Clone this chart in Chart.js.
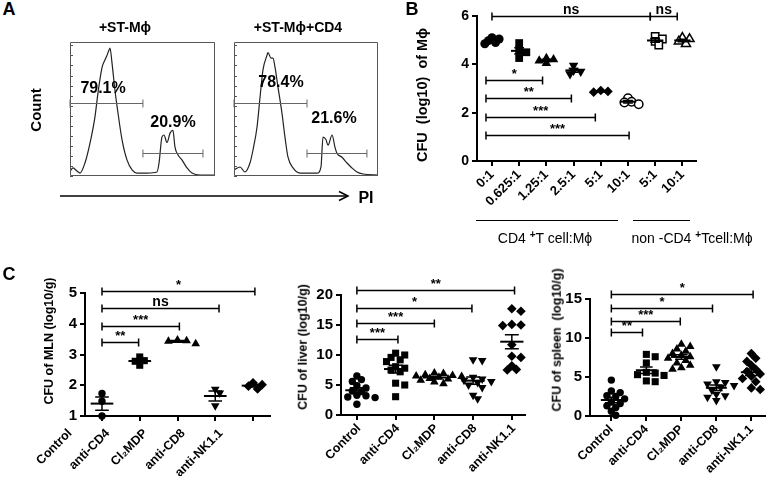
<!DOCTYPE html>
<html>
<head>
<meta charset="utf-8">
<title>CFU panels</title>
<script src="https://cdn.jsdelivr.net/npm/chart.js@4.4.1/dist/chart.umd.min.js"></script>
<style>
  html, body { margin: 0; padding: 0; background: #fff; }
  #fig { position: relative; width: 770px; height: 481px; overflow: hidden; font-family: "Liberation Sans", Arial, sans-serif; color: #000; }
  #fig canvas { position: absolute; }
  .lbl { position: absolute; transform: translate(-50%, -50%); white-space: pre; font-weight: bold; line-height: 1; }
  .vert { transform: translate(-50%, -50%) rotate(-90deg); }
  .plain { font-weight: normal; }
  .rule { position: absolute; height: 0; border-top: 1.5px solid #000; }
  sup { font-size: 10px; vertical-align: 5px; line-height: 0; font-weight: bold; }
</style>
</head>
<body>
<div id="fig">
  <canvas id="histL"></canvas>
  <canvas id="histR"></canvas>
  <canvas id="chartB"></canvas>
  <canvas id="chartMLN"></canvas>
  <canvas id="chartLiver"></canvas>
  <canvas id="chartSpleen"></canvas>

  <div class="lbl" style="left:9px;top:9px;font-size:18px">A</div>
  <div class="lbl" style="left:125px;top:27px;font-size:14px">+ST-Mϕ</div>
  <div class="lbl" style="left:298px;top:27px;font-size:14px">+ST-Mϕ+CD4</div>
  <div class="lbl vert" style="left:35px;top:110px;font-size:15px">Count</div>
  <svg style="position:absolute;left:0;top:0" width="390" height="210">
    <line x1="60" y1="196" x2="347" y2="196" stroke="#000" stroke-width="1.5"/>
    <path d="M339,191.5 L348,196 L339,200.5" fill="none" stroke="#000" stroke-width="1.5"/>
  </svg>
  <div class="lbl" style="left:366px;top:198px;font-size:16px">PI</div>

  <div class="lbl" style="left:412px;top:9px;font-size:18px">B</div>
  <div class="lbl vert" style="left:422px;top:95px;font-size:14.5px">CFU  (log10)  of Mϕ</div>
  <div class="rule" style="left:476px;top:220px;width:142px"></div>
  <div class="rule" style="left:633px;top:220px;width:57px"></div>
  <div class="lbl plain" style="left:545px;top:238px;font-size:14px">CD4 <sup>+</sup>T cell:Mϕ</div>
  <div class="lbl plain" style="left:692px;top:238px;font-size:14px">non -CD4 <sup>+</sup>Tcell:Mϕ</div>

  <div class="lbl" style="left:9px;top:274px;font-size:18px">C</div>
  <div class="lbl vert" style="left:49px;top:341px;font-size:12.5px">CFU of MLN (log10/g)</div>
  <div class="lbl vert" style="left:303px;top:347px;font-size:12.5px">CFU of liver (log10/g)</div>
  <div class="lbl vert" style="left:557px;top:340px;font-size:12.5px">CFU of spleen  (log10/g)</div>
</div>

<script>
const FONT = '"Liberation Sans", Arial, sans-serif';
Chart.defaults.font.family = FONT;
Chart.defaults.color = '#000';
Chart.defaults.animation = false;

// ---- A: PI histograms (channel 0-1000, count as % of panel height) ----
const leftPI = [0, 21, 48, 69, 103, 138, 172, 193, 221, 241, 255, 269, 276, 290, 310, 331, 359, 393, 428, 462,
  531, 600, 614, 634, 648, 669, 690, 710, 724, 745, 772, 807, 841, 897, 1000];
const leftCount = [3.7, 6, 3.7, 2.2, 9.7, 24.6, 44, 62, 81, 86.6, 90, 94, 95.5, 84, 64, 47, 27, 12, 4.5, 2.2,
  2.2, 3, 9.7, 29, 30.6, 25, 32, 34, 21.6, 15.7, 12, 6, 2.2, 0.7, 0.7];
const rightPI = [0, 42, 76, 111, 132, 160, 181, 201, 229, 236, 257, 271, 285, 306, 333, 354, 375, 410, 458, 576,
  604, 618, 639, 653, 681, 701, 715, 750, 785, 819, 854, 896, 1000];
const rightCount = [4.5, 6.7, 3, 9.7, 19.4, 36.6, 59, 79, 90, 92, 88, 88, 81, 66, 47, 29, 14, 6, 2.2, 2.2,
  6.7, 29, 27, 23, 30.6, 21.6, 17, 14, 9.7, 6, 3, 1.5, 0.7];
// gates: [from, to, drawn at count]
const leftGates = [[0, 503, 54.5], [503, 917, 17.2]];
const rightGates = [[0, 507, 54.5], [507, 923, 17.2]];
const leftPct = ['79.1%', '20.9%'];
const rightPct = ['78.4%', '21.6%'];

// ---- B: CFU (log10) of macrophages by ratio ----
const ratioLabels = ['0:1', '0.625:1', '1.25:1', '2.5:1', '5:1', '10:1', '5:1', '10:1'];
const cfuMphi = [
  [5.1, 5.05, 4.98, 4.9, 4.85],
  [4.88, 4.59, 4.5, 4.26],
  [4.25, 4.2, 4.15, 4.05],
  [3.95, 3.75, 3.7, 3.6],
  [2.92, 2.88, 2.85],
  [2.6, 2.45, 2.42, 2.35],
  [5.15, 5.05, 4.95, 4.8],
  [5.1, 5.05, 4.95, 4.85]
];
const sigB = [[0, 5.82, 6, 'ns'], [5.82, 6.81, 6, 'ns'], [-0.22, 1.86, 3.35, '*'],
  [-0.22, 2.92, 2.6, '**'], [-0.22, 3.8, 1.82, '***'], [-0.22, 5.04, 1.08, '***']];

// ---- C: CFU (log10/g) per organ ----
const treatments = ['Control', 'anti-CD4', 'Cl₂MDP', 'anti-CD8', 'anti-NK1.1'];
const cfuMLN = [
  [1.73, 1.48, 1.0],
  [2.92, 2.8, 2.78, 2.65],
  [3.47, 3.45, 3.43, 3.35],
  [1.87, 1.75, 1.33],
  [2.08, 2.02, 1.97, 1.88]
];
const cfuLiver = [
  [6.5, 5.9, 5.6, 4.9, 4.5, 4.0, 3.9, 3.3, 3.2, 3.0, 2.9, 1.8],
  [10.3, 10.0, 9.6, 9.2, 8.9, 8.05, 7.8, 7.5, 7.2, 5.3, 5.0, 3.05],
  [7.0, 6.9, 6.7, 6.6, 6.5, 6.4, 6.3, 6.1, 6.0, 5.8, 5.5, 5.2],
  [9.2, 9.1, 6.3, 6.0, 5.8, 5.6, 5.4, 5.0, 4.6, 3.3, 2.7],
  [17.7, 17.3, 15.1, 15.0, 14.9, 11.7, 9.8, 9.6, 8.2, 7.5, 7.6]
];
const cfuSpleen = [
  [4.6, 3.2, 3.0, 2.6, 2.5, 2.2, 1.8, 1.6, 1.3, 1.1, 0.6, 0.1],
  [7.9, 7.6, 6.8, 5.6, 5.5, 5.3, 5.2, 4.5, 4.4],
  [9.2, 8.9, 8.6, 8.3, 8.0, 7.8, 7.6, 7.4, 7.1, 6.8, 6.5, 6.2, 6.0],
  [6.3, 4.4, 4.3, 4.1, 3.9, 3.7, 3.3, 2.8, 2.6, 2.4, 2.0],
  [8.0, 7.4, 7.0, 6.5, 6.0, 5.7, 5.4, 5.1, 4.8, 4.4, 3.6, 3.4]
];
const sigMLN = [[0, 4.05, 5.06, '*'], [0, 3.1, 4.5, 'ns'], [0, 2.05, 3.92, '***'], [0, 0.97, 3.4, '**']];
const sigLiver = [[0, 4.07, 20.8, '**'], [0, 2.97, 17.8, '*'], [0, 2.0, 15.3, '***'], [0, 1.06, 12.7, '***']];
const sigSpleen = [[0, 4.05, 15.6, '*'], [0, 2.89, 13.85, '*'], [0, 1.97, 12.2, '***'], [0, 0.89, 10.8, '**']];

// marker looks
const marksB = [
  { style: 'circle', r: 4.5 }, { style: 'rect', r: 5.5 }, { style: 'triangle', r: 5.5 },
  { style: 'triangle', r: 5.5, rot: 180 }, { style: 'rectRot', r: 4.8 },
  { style: 'circle', r: 4.2, open: true }, { style: 'rect', r: 5.2, open: true }, { style: 'triangle', r: 5.2, open: true }
];
const marksC = [
  { style: 'circle', r: 3.7 }, { style: 'rect', r: 5 }, { style: 'triangle', r: 5 },
  { style: 'triangle', r: 5, rot: 180 }, { style: 'rectRot', r: 4.8 }
];

// ---------- helpers ----------
function mountCanvas(id, box) {
  const c = document.getElementById(id);
  c.width = box.w; c.height = box.h;
  c.style.left = box.x + 'px'; c.style.top = box.y + 'px';
  return c;
}

function layoutPadding(box, area, yW, xH) {
  return {
    left: area.left - box.x - yW,
    top: area.top - box.y,
    right: box.x + box.w - area.right,
    bottom: box.y + box.h - area.bottom - xH
  };
}

// push overlapping markers of one column sideways (column scatter layout)
function spread(vals, pxPerY, pxPerX, d) {
  const order = vals.map((v, i) => i).sort((a, b) => vals[b] - vals[a]);
  const placed = [];
  const off = vals.map(() => 0);
  order.forEach(i => {
    const py = vals[i] * pxPerY;
    for (let k = 0; k < 40; k++) {
      const px = (k % 2 ? 1 : -1) * Math.ceil(k / 2) * d * 0.65;
      if (placed.every(p => Math.hypot(p.x - px, p.y - py) >= d * 0.8)) {
        placed.push({ x: px, y: py });
        off[i] = px / pxPerX;
        break;
      }
    }
  });
  return off;
}

const facsBox = {
  id: 'facsBox',
  afterDatasetsDraw(chart, args, opts) {
    const { ctx, chartArea: a, scales: { x, y } } = chart;
    ctx.save();
    ctx.strokeStyle = '#555';
    ctx.lineWidth = 1;
    ctx.beginPath();
    ctx.rect(a.left + 0.5, a.top + 0.5, a.width - 1, a.height - 1);
    for (let v = 0; v <= 100; v += 7.5) {
      const py = Math.round(y.getPixelForValue(v)) + 0.5;
      ctx.moveTo(a.left, py); ctx.lineTo(a.left + 3, py);
    }
    ctx.stroke();

    ctx.strokeStyle = '#666';
    ctx.beginPath();
    opts.gates.forEach(([g1, g2, c]) => {
      const x1 = x.getPixelForValue(g1), x2 = x.getPixelForValue(g2);
      const py = Math.round(y.getPixelForValue(c)) + 0.5;
      ctx.moveTo(x1, py); ctx.lineTo(x2, py);
      ctx.moveTo(x1, py - 4); ctx.lineTo(x1, py + 4);
      ctx.moveTo(x2, py - 4); ctx.lineTo(x2, py + 4);
    });
    ctx.stroke();

    ctx.fillStyle = '#000';
    ctx.font = 'bold 16px ' + FONT;
    ctx.textAlign = 'center';
    ctx.textBaseline = 'middle';
    opts.pct.forEach((t, i) => {
      const [px, c] = opts.pctAt[i];
      ctx.fillText(t, x.getPixelForValue(px), y.getPixelForValue(c));
    });
    ctx.restore();
  }
};

const meanSem = {
  id: 'meanSem',
  afterDatasetsDraw(chart) {
    const { ctx, scales: { x, y } } = chart;
    const unit = Math.abs(x.getPixelForValue(1) - x.getPixelForValue(0));
    ctx.save();
    ctx.strokeStyle = '#000';
    chart.data.datasets.forEach(ds => {
      const vals = ds.data.map(p => p.y);
      const n = vals.length;
      const m = vals.reduce((s, v) => s + v, 0) / n;
      const sd = Math.sqrt(vals.reduce((s, v) => s + (v - m) ** 2, 0) / (n - 1));
      const sem = sd / Math.sqrt(n);
      const cx = x.getPixelForValue(ds.group);
      const pm = y.getPixelForValue(m), pt = y.getPixelForValue(m + sem), pb = y.getPixelForValue(m - sem);
      ctx.lineWidth = 2;
      ctx.beginPath();
      ctx.moveTo(cx - 0.3 * unit, pm); ctx.lineTo(cx + 0.3 * unit, pm);
      ctx.stroke();
      ctx.lineWidth = 1.5;
      ctx.beginPath();
      ctx.moveTo(cx, pt); ctx.lineTo(cx, pb);
      ctx.moveTo(cx - 0.18 * unit, pt); ctx.lineTo(cx + 0.18 * unit, pt);
      ctx.moveTo(cx - 0.18 * unit, pb); ctx.lineTo(cx + 0.18 * unit, pb);
      ctx.stroke();
    });
    ctx.restore();
  }
};

const sigBars = {
  id: 'sigBars',
  afterDraw(chart, args, opts) {
    const { ctx, scales: { x, y } } = chart;
    ctx.save();
    ctx.strokeStyle = '#000';
    ctx.fillStyle = '#000';
    ctx.lineWidth = 1.5;
    ctx.textAlign = 'center';
    ctx.textBaseline = 'alphabetic';
    opts.pairs.forEach(([a, b, v, t]) => {
      const x1 = x.getPixelForValue(a), x2 = x.getPixelForValue(b);
      const py = Math.round(y.getPixelForValue(v)) + 0.5;
      ctx.beginPath();
      ctx.moveTo(x1, py); ctx.lineTo(x2, py);
      ctx.moveTo(x1, py - 4); ctx.lineTo(x1, py + 4);
      ctx.moveTo(x2, py - 4); ctx.lineTo(x2, py + 4);
      ctx.stroke();
      ctx.font = (t === 'ns' ? 'bold 14px ' : 'bold 13px ') + FONT;
      ctx.fillText(t, (x1 + x2) / 2, py - 3);
    });
    ctx.restore();
  }
};

function histogram(id, box, area, pi, count, gates, pct, pctAt) {
  const canvas = mountCanvas(id, box);
  return new Chart(canvas, {
    type: 'line',
    data: {
      datasets: [{
        data: pi.map((v, i) => ({ x: v, y: count[i] })),
        borderColor: '#222', borderWidth: 1.2, pointRadius: 0,
        cubicInterpolationMode: 'monotone', fill: false
      }]
    },
    options: {
      responsive: false,
      events: [],
      layout: { padding: layoutPadding(box, area, 0, 0) },
      scales: {
        x: { type: 'linear', display: false, min: 0, max: 1000 },
        y: { display: false, min: 0, max: 100 }
      },
      plugins: { legend: { display: false }, tooltip: { enabled: false }, facsBox: { gates, pct, pctAt } }
    },
    plugins: [facsBox]
  });
}

function columnScatter(id, cfg) {
  const { box, area, xMin, xMax, yMin, yMax, yStep, yFont, xFont, labelShift, labelPad,
          labels, groups, marks, sig, dot } = cfg;
  const canvas = mountCanvas(id, box);
  const pxY = (area.bottom - area.top) / (yMax - yMin);
  const pxX = (area.right - area.left) / (xMax - xMin);
  const yW = area.left - box.x, xH = 60;
  const datasets = groups.map((vals, g) => {
    const off = spread(vals, pxY, pxX, dot);
    const mk = marks[g];
    return {
      group: g,
      data: vals.map((v, i) => ({ x: g + off[i], y: v })),
      pointStyle: mk.style, pointRotation: mk.rot || 0, pointRadius: mk.r,
      backgroundColor: mk.open ? '#fff' : '#000', borderColor: '#000', borderWidth: mk.open ? 1.5 : 0,
      clip: false
    };
  });
  const axisLine = { color: '#000', width: 2 };
  const tickMarks = { drawOnChartArea: false, tickLength: 5, color: '#000', lineWidth: 2 };
  return new Chart(canvas, {
    type: 'scatter',
    data: { datasets },
    options: {
      responsive: false,
      events: [],
      layout: { padding: layoutPadding(box, area, yW, xH) },
      scales: {
        x: {
          type: 'linear', min: xMin, max: xMax,
          afterBuildTicks: s => { s.ticks = labels.map((_, i) => ({ value: i })); },
          afterFit: s => { s.height = xH; },
          ticks: { autoSkip: false, minRotation: 45, maxRotation: 45, padding: labelPad, labelOffset: labelShift,
                   font: { size: xFont, weight: 'bold' }, callback: v => labels[v] },
          grid: tickMarks, border: axisLine
        },
        y: {
          min: yMin, max: yMax,
          afterFit: s => { s.width = yW; },
          ticks: { stepSize: yStep, padding: 3, font: { size: yFont, weight: 'bold' } },
          grid: tickMarks, border: axisLine
        }
      },
      plugins: { legend: { display: false }, tooltip: { enabled: false }, sigBars: { pairs: sig } }
    },
    plugins: [meanSem, sigBars]
  });
}

// ---------- build ----------
histogram('histL', { x: 0, y: 30, w: 230, h: 150 }, { left: 70, top: 42, right: 215, bottom: 176 },
  leftPI, leftCount, leftGates, leftPct, [[228, 65], [710, 39.5]]);
histogram('histR', { x: 230, y: 30, w: 160, h: 150 }, { left: 234, top: 42, right: 378, bottom: 176 },
  rightPI, rightCount, rightGates, rightPct, [[326, 70], [694, 43]]);

columnScatter('chartB', {
  box: { x: 390, y: 0, w: 380, h: 262 }, area: { left: 477, top: 16, right: 696, bottom: 161 },
  xMin: -0.55, xMax: 7.5, yMin: 0, yMax: 6, yStep: 2, yFont: 14, xFont: 13, labelShift: 0, labelPad: 1,
  labels: ratioLabels, groups: cfuMphi, marks: marksB, sig: sigB, dot: 5.5
});
columnScatter('chartMLN', {
  box: { x: 0, y: 262, w: 275, h: 219 }, area: { left: 85, top: 293, right: 270, bottom: 416 },
  xMin: -0.45, xMax: 4.45, yMin: 1, yMax: 5, yStep: 1, yFont: 15, xFont: 12.5, labelShift: -32, labelPad: 5,
  labels: treatments, groups: cfuMLN, marks: marksC, sig: sigMLN, dot: 7
});
columnScatter('chartLiver', {
  box: { x: 270, y: 262, w: 260, h: 219 }, area: { left: 341, top: 295, right: 525, bottom: 415 },
  xMin: -0.41, xMax: 4.34, yMin: 0, yMax: 20, yStep: 5, yFont: 15, xFont: 12.5, labelShift: 2, labelPad: 1,
  labels: treatments, groups: cfuLiver, marks: marksC, sig: sigLiver, dot: 7
});
columnScatter('chartSpleen', {
  box: { x: 525, y: 262, w: 245, h: 219 }, area: { left: 590, top: 299, right: 770, bottom: 416 },
  xMin: -0.61, xMax: 4.39, yMin: 0, yMax: 15, yStep: 5, yFont: 15, xFont: 12.5, labelShift: 0, labelPad: 1,
  labels: treatments, groups: cfuSpleen, marks: marksC, sig: sigSpleen, dot: 7
});
</script>
</body>
</html>
